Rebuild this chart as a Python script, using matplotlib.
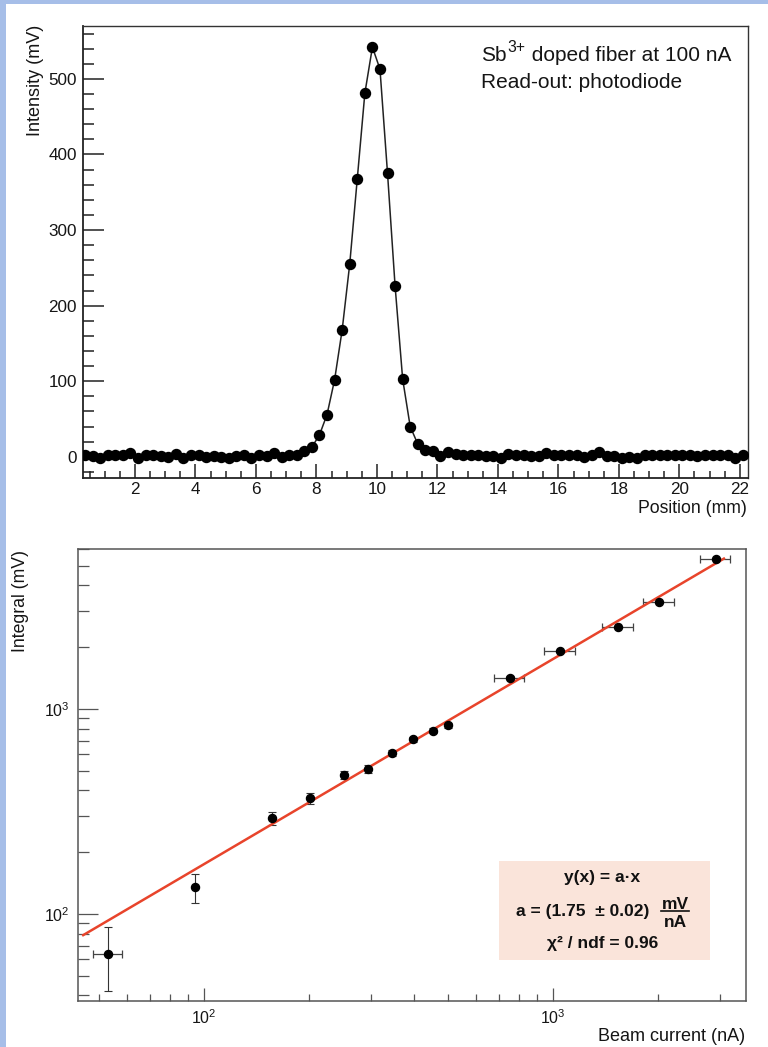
import numpy as np
import matplotlib
matplotlib.use("Agg")
import matplotlib.pyplot as plt
from matplotlib.ticker import MultipleLocator, LogLocator, NullFormatter, LogFormatterMathtext
from matplotlib.patches import Rectangle
from matplotlib.lines import Line2D

plt.rcParams['font.family'] = ['Liberation Sans', 'DejaVu Sans']
plt.rcParams['mathtext.fontset'] = 'custom'
plt.rcParams['mathtext.rm'] = 'Liberation Sans'
plt.rcParams['mathtext.it'] = 'Liberation Sans:italic'
plt.rcParams['mathtext.bf'] = 'Liberation Sans:bold'

# ---------------- data: top panel (scan of doped fiber) ----------------
position = [0.35, 0.6, 0.85, 1.1, 1.35, 1.6, 1.85, 2.1, 2.35, 2.6, 2.85, 3.1, 3.35, 3.6,
            3.85, 4.1, 4.35, 4.6, 4.85, 5.1, 5.35, 5.6, 5.85, 6.1, 6.35, 6.6, 6.85, 7.1,
            7.35, 7.6, 7.85, 8.1, 8.35, 8.6, 8.85, 9.1, 9.35, 9.6, 9.85, 10.1, 10.35, 10.6,
            10.85, 11.1, 11.35, 11.6, 11.85, 12.1, 12.35, 12.6, 12.85, 13.1, 13.35, 13.6,
            13.85, 14.1, 14.35, 14.6, 14.85, 15.1, 15.35, 15.6, 15.85, 16.1, 16.35, 16.6,
            16.85, 17.1, 17.35, 17.6, 17.85, 18.1, 18.35, 18.6, 18.85, 19.1, 19.35, 19.6,
            19.85, 20.1, 20.35, 20.6, 20.85, 21.1, 21.35, 21.6, 21.85, 22.1]
intensity = [2, 1, -1, 2, 3, 2, 5, -2, 2, 3, 1, 0, 4, -1, 2, 3, 0, 1, 0, -1, 1, 3, -2, 2,
             1, 5, 0, 3, 2, 8,
             13, 29, 56, 102, 168, 255, 368, 481, 542, 513, 375, 226, 103, 40, 17, 9, 8, 1, 7,
             4, 3, 3, 3, 1, 1, -2, 4, 3, 2, 1, 1, 5, 3, 3, 2, 2, 0, 3, 6, 1, 1, -2, 0, -1,
             2, 3, 3, 2, 3, 2, 2, 1, 2, 2, 3, 2, -1, 2]

# ---------------- data: bottom panel (linearity) ----------------
current = [53, 94, 157, 201, 252, 294, 345, 398, 452, 500, 751, 1049, 1539, 2018, 2930]
current_err = [5, 0, 0, 0, 0, 0, 0, 0, 0, 0, 75, 105, 154, 202, 293]
integral = [64, 135, 293, 366, 476, 509, 608, 711, 782, 830, 1422, 1918, 2494, 3313, 5394]
integral_err = [22, 22, 21, 22, 22, 22, 22, 22, 22, 22, 22, 22, 22, 22, 22]
fit_slope = 1.75
fit_range = [44.7, 3110]

W, H = 768, 1047
fig = plt.figure(figsize=(W / 100, H / 100), dpi=100)
renderer = fig.canvas.get_renderer()


def fx(px):
    return px / W


def fy(py):
    return 1 - py / H


# light blue page borders
blue = '#a6bee8'
fig.patches.append(Rectangle((0, 0), fx(6), 1, transform=fig.transFigure,
                             facecolor=blue, edgecolor='none', zorder=0))
fig.patches.append(Rectangle((0, fy(4.3)), 1, 4.3 / H, transform=fig.transFigure,
                             facecolor=blue, edgecolor='none', zorder=0))

txt_color = '#151515'

# ---------------- top panel ----------------
ax1 = fig.add_axes([fx(83), fy(478), fx(748) - fx(83), fy(26) - fy(478)])
ax1.plot(position, intensity, '-o', color='#222222', lw=1.1, ms=7.2,
         mfc='black', mec='black', zorder=3)
ax1.set_xlim(0.28, 22.27)
ax1.set_ylim(-28, 570)
ax1.xaxis.set_major_locator(MultipleLocator(2))
ax1.xaxis.set_minor_locator(MultipleLocator(0.5))
ax1.yaxis.set_major_locator(MultipleLocator(100))
ax1.yaxis.set_minor_locator(MultipleLocator(20))
ax1.tick_params(which='both', direction='in', top=False, right=False, color='#222222',
                labelcolor=txt_color)
ax1.tick_params(axis='x', which='major', length=10, width=1.1, pad=3, labelsize=12.3)
ax1.tick_params(axis='x', which='minor', length=5, width=1.1)
ax1.tick_params(axis='y', which='major', length=15, width=1.1, pad=4.3, labelsize=12.3)
ax1.tick_params(axis='y', which='minor', length=8, width=1.1)
for s in ['left', 'bottom']:
    ax1.spines[s].set_linewidth(1.3)
    ax1.spines[s].set_color('#222222')
for s in ['top', 'right']:
    ax1.spines[s].set_linewidth(1.0)
    ax1.spines[s].set_color('#333333')

# annotation "Sb^{3+} doped fiber at 100 nA" with a tight superscript
t_sb = fig.text(fx(481), fy(61), 'Sb', fontsize=15, ha='left', va='baseline',
                color=txt_color)
bb = t_sb.get_window_extent(renderer)
t_sup = fig.text(bb.x1 / W + fx(1), fy(51.5), '3+', fontsize=11.3, ha='left',
                 va='baseline', color=txt_color)
bb2 = t_sup.get_window_extent(renderer)
fig.text(bb2.x1 / W + fx(1), fy(61), ' doped fiber at 100 nA', fontsize=15, ha='left',
         va='baseline', color=txt_color)
fig.text(fx(481), fy(88), 'Read-out: photodiode', fontsize=15,
         ha='left', va='baseline', color=txt_color)
fig.text(fx(747), fy(513), 'Position (mm)', fontsize=12.7, ha='right', va='baseline',
         color=txt_color)
fig.text(fx(36), fy(25), 'Intensity (mV)', fontsize=13, rotation=90, ha='center', va='top',
         color=txt_color)

# ---------------- bottom panel ----------------
ax2 = fig.add_axes([fx(78), fy(1001), fx(746) - fx(78), fy(549) - fy(1001)])
ax2.set_xscale('log')
ax2.set_yscale('log')

cur = np.array(current, dtype=float)
cur_e = np.array(current_err, dtype=float)
integ = np.array(integral, dtype=float)
integ_e = np.array(integral_err, dtype=float)
has_xerr = cur_e > 0

ax2.errorbar(cur, integ, yerr=integ_e, fmt='none', ecolor='#333333', elinewidth=0.8,
             capsize=2.6, capthick=0.8, zorder=2)
ax2.errorbar(cur[has_xerr], integ[has_xerr], xerr=cur_e[has_xerr], fmt='none',
             ecolor='#444444', elinewidth=0.9, capsize=2.6, capthick=0.9, zorder=2)
fx_line = np.array(fit_range)
ax2.plot(fx_line, fit_slope * fx_line, color='#e8442b', lw=1.8, zorder=2.5,
         solid_capstyle='butt')
ax2.plot(cur, integ, 'o', color='black', ms=5.8, zorder=3)

ax2.set_xlim(43.5, 3573)
ax2.set_ylim(37.6, 6020)
for axis in (ax2.xaxis, ax2.yaxis):
    axis.set_major_locator(LogLocator(base=10, subs=(1.0,), numticks=10))
    axis.set_minor_locator(LogLocator(base=10, subs=np.arange(2, 10), numticks=20))
    axis.set_major_formatter(LogFormatterMathtext())
    axis.set_minor_formatter(NullFormatter())
ax2.tick_params(which='both', direction='in', top=False, right=False, color='#555555',
                labelcolor=txt_color)
ax2.tick_params(axis='x', which='major', length=9.4, width=0.9, pad=5, labelsize=11.5)
ax2.tick_params(axis='x', which='minor', length=5, width=0.9)
ax2.tick_params(axis='y', which='major', length=14.4, width=0.9, pad=6, labelsize=11.5)
ax2.tick_params(axis='y', which='minor', length=8, width=0.9)
for s in ax2.spines.values():
    s.set_linewidth(1.1)
    s.set_color('#555555')

# fit statistics box
ax2.add_patch(Rectangle((0.630, 0.0907), 0.316, 0.219, transform=ax2.transAxes,
                        facecolor='#fae4da', edgecolor='none', zorder=1))
box_kw = dict(transform=ax2.transAxes, fontsize=12.5, fontweight='bold', color='#111111',
              zorder=4)
ax2.text(0.7852, 0.2640, 'y(x) = a\u00b7x', ha='center', va='baseline', **box_kw)
ax2.text(0.6557, 0.1881, 'a = (1.75  \u00b1 0.02)', ha='left', va='baseline', **box_kw)
ax2.text(0.8937, 0.2029, 'mV', ha='center', va='baseline', **box_kw)
ax2.text(0.8937, 0.1644, 'nA', ha='center', va='baseline', **box_kw)
ax2.add_line(Line2D([0.8723, 0.9151], [0.1991, 0.1991], transform=ax2.transAxes,
                    color='#111111', lw=1.2, zorder=4))
ax2.text(0.7859, 0.1166, '\u03c7\u00b2 / ndf = 0.96', ha='center', va='baseline', **box_kw)

fig.text(fx(745), fy(1041), 'Beam current (nA)', fontsize=13, ha='right', va='baseline',
         color=txt_color)
fig.text(fx(21), fy(550), 'Integral (mV)', fontsize=12.7, rotation=90, ha='center',
         va='top', color=txt_color)

fig.savefig('out.png', dpi=100)
